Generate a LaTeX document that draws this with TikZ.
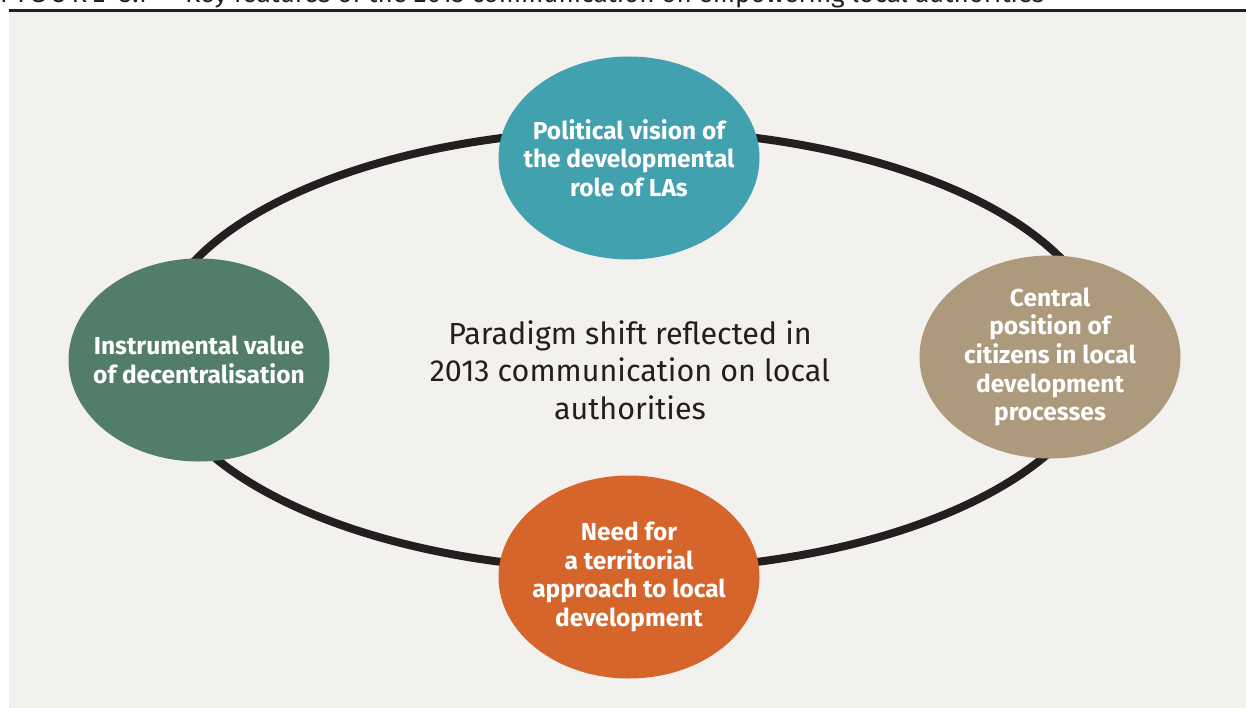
\documentclass[tikz,border=0pt]{standalone}
\usepackage{fontspec}
\setmainfont{Fira Sans}
\usetikzlibrary{shapes.geometric}
\definecolor{bgpanel}{HTML}{F2F1ED}
\definecolor{ringc}{HTML}{231F20}
\definecolor{cteal}{HTML}{42A1AE}
\definecolor{cgreen}{HTML}{527D6B}
\definecolor{ctan}{HTML}{AD997C}
\definecolor{corange}{HTML}{D5652A}
\definecolor{ctext}{HTML}{231F20}
\tikzset{
  feat/.style={ellipse, minimum width=261pt, minimum height=203pt,
    inner xsep=-45pt, inner ysep=-25pt,
    align=center, text=white, font=\fontsize{24.5}{28.6}\selectfont\bfseries},
  ringline/.style={line width=8pt, draw=ringc},
}
\begin{document}
\begin{tikzpicture}[x=1pt,y=-1pt]
\useasboundingbox (0,0) rectangle (1246,708);
\clip (0,0) rectangle (1246,708);
\fill[bgpanel] (9,12) rectangle (1246,708);
\draw[line width=3pt, ringc] (9,10.3) -- (1246,10.3);
\node[anchor=base west, inner sep=0pt, text=ctext, font=\fontsize{26}{30}\selectfont] (title) at (0,3)
  {F\,I\,G\,U\,R\,E\ \ 3.1\ \ -\ \ Key features of the 2013 communication on empowering local authorities};
\coordinate (c) at (629,350);
\draw[ringline] (c) ellipse [x radius=475pt, y radius=220pt];
\node[feat, fill=cteal] (top) at (629,158) {Political vision of\\the developmental\\role of LAs};
\node[feat, fill=cgreen] (left) at (199,360) {Instrumental value\\of decentralisation};
\node[feat, fill=ctan] (right) at (1050,357) {Central\\position of\\citizens in local\\development\\processes};
\node[feat, fill=corange] (bottom) at (629,577) {Need for\\a territorial\\approach to local\\development};
\node[align=center, text=ctext, font=\fontsize{30.5}{37.5}\selectfont] (center) at (630,370)
  {Paradigm shift reflected in\\2013 communication on local\\authorities};
\end{tikzpicture}
\end{document}
